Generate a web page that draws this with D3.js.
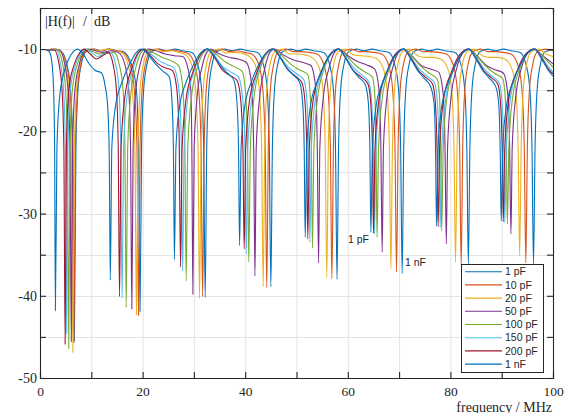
<!DOCTYPE html>
<html><head><meta charset="utf-8">
<script src="https://cdn.jsdelivr.net/npm/d3@7"></script>
<style>
html,body{margin:0;padding:0;background:#fff;}
svg{display:block;}
</style></head>
<body>
<svg id="chart" width="574" height="413"></svg>
<script>
// ---- data ----
const seriesNames = ["1 pF","10 pF","20 pF","50 pF","100 pF","150 pF","200 pF","1 nF"];
const seriesColors = ["#0072BD","#D95319","#EDB120","#7E2F8E","#77AC30","#4DBEEE","#A2142F","#0072BD"];
const xTicks = [0,20,40,60,80,100];
const yTicks = [-50,-40,-30,-20,-10];

const s1pF = [[1.2,-10.1],[3.0,-10.0],[4.2,-10.3],[5.3,-12],[5.95,-15],[6.4,-22],[6.7,-45.5],[7.0,-22],[7.4,-15],[8.0,-12],[9.0,-10.3],
[10.5,-10.0],[12.0,-10.2],[13.5,-10.0],[15.0,-10.2],
[16.2,-10.3],[17.9,-12],[18.8,-15],[19.2,-22],[19.5,-41.9],[19.8,-22],[20.2,-15],[20.8,-12],[21.8,-10.3],
[23.2,-10.0],[24.8,-10.2],[26.3,-10.0],[27.8,-10.2],
[29.6,-10.4],[30.8,-12],[31.5,-15],[31.9,-22],[32.2,-40.2],[32.5,-22],[32.9,-15],[33.5,-12],[34.5,-10.3],
[36.0,-10.0],[37.5,-10.2],[39.0,-10.0],[40.5,-10.2],
[42.4,-10.4],[43.6,-12],[44.3,-15],[44.7,-22],[45.0,-38.9],[45.3,-22],[45.7,-15],[46.3,-12],[47.3,-10.3],
[48.8,-10.0],[50.3,-10.2],[51.8,-10.0],[53.3,-10.2],
[55.3,-10.4],[56.5,-12],[57.2,-15],[57.6,-22],[57.9,-38.0],[58.2,-22],[58.6,-15],[59.2,-12],[60.2,-10.3],
[61.7,-10.0],[63.2,-10.2],[64.7,-10.0],[66.2,-10.2],
[68.0,-10.4],[69.2,-12],[69.9,-15],[70.3,-22],[70.6,-37.3],[70.9,-22],[71.3,-15],[71.9,-12],[72.9,-10.3],
[74.4,-10.0],[75.9,-10.2],[77.4,-10.0],[78.9,-10.2],
[80.9,-10.4],[82.1,-12],[82.8,-15],[83.2,-22],[83.5,-36.1],[83.8,-22],[84.2,-15],[84.8,-12],[85.8,-10.3],
[87.3,-10.0],[88.8,-10.2],[90.3,-10.0],[91.8,-10.2],
[93.6,-10.4],[94.8,-12],[95.5,-15],[95.9,-22],[96.2,-36.1],[96.5,-22],[96.9,-15],[97.5,-12],[98.5,-10.3],[100,-10.1]];

const s10pF = [[1.2,-10.1],[3.0,-10.0],[4.1,-10.3],[5.2,-12],[5.85,-15],[6.3,-22],[6.6,-45.7],
[6.9,-22],[7.3,-15],[7.9,-12],[8.9,-10.3],[10.3,-10.0],[11.8,-10.2],[13.3,-10.0],[14.8,-10.2],
[16.2,-10.4],[17.6,-12],[18.4,-15],[18.9,-22],[19.2,-42.4],[19.5,-22],[19.9,-15],[20.5,-12],[21.5,-10.3],
[22.9,-10.0],[24.4,-10.2],[25.9,-10.1],[27.4,-10.3],
[28.8,-10.5],[30.2,-12],[30.95,-15],[31.4,-22],[31.7,-40.1],[32.0,-22],[32.4,-15],[33.0,-12],[34.0,-10.3],
[35.4,-10.0],[36.9,-10.3],[38.4,-10.2],[39.9,-10.4],
[41.3,-10.6],[42.7,-12],[43.45,-15],[43.9,-22],[44.2,-39.0],[44.5,-22],[44.9,-15],[45.5,-12],[46.5,-10.3],
[47.9,-10.0],[49.4,-10.3],[50.9,-10.3],[52.4,-10.4],
[54.0,-10.6],[55.4,-12],[56.15,-15],[56.6,-22],[56.9,-37.9],[57.2,-22],[57.6,-15],[58.2,-12],[59.2,-10.3],
[60.6,-10.0],[62.1,-10.3],[63.6,-10.3],[65.1,-10.4],
[66.6,-10.6],[68.0,-12],[68.75,-15],[69.2,-22],[69.5,-37.1],[69.8,-22],[70.2,-15],[70.8,-12],[71.8,-10.3],
[73.2,-10.0],[74.7,-10.3],[76.2,-10.3],[77.7,-10.4],
[79.2,-10.6],[80.6,-12],[81.35,-15],[81.8,-22],[82.1,-36.3],[82.4,-22],[82.8,-15],[83.4,-12],[84.4,-10.3],
[85.8,-10.0],[87.3,-10.3],[88.8,-10.3],[90.3,-10.4],
[91.8,-10.6],[93.2,-12],[93.95,-15],[94.4,-22],[94.7,-36.0],[95.0,-22],[95.4,-15],[96.0,-12],[97.0,-10.3],
[98.5,-10.0],[100,-10.2]];

const s20pF = [[1.2,-10.1],[3.0,-10.0],[4.0,-10.3],[5.0,-12],[5.65,-15],[6.1,-22],[6.4,-46.9],
[6.7,-22],[7.1,-15],[7.7,-12],[8.7,-10.3],[10.0,-10.0],[11.5,-10.2],[13.0,-10.0],[14.6,-10.2],
[15.9,-10.4],[17.2,-12],[18.0,-15],[18.5,-22],[18.8,-42.3],[19.1,-22],[19.5,-15],[20.1,-12],[21.1,-10.3],
[22.5,-10.0],[24.0,-10.3],[25.5,-10.2],[27.0,-10.4],
[28.2,-10.6],[29.6,-12],[30.35,-15],[30.8,-22],[31.1,-40.3],[31.4,-22],[31.8,-15],[32.4,-12],[33.4,-10.3],
[34.8,-10.0],[36.3,-10.5],[37.8,-10.4],[39.3,-10.5],
[40.6,-10.8],[42.0,-12],[42.75,-15],[43.2,-22],[43.5,-38.9],[43.8,-22],[44.2,-15],[44.8,-12],[45.8,-10.3],
[47.2,-10.0],[48.7,-10.6],[50.2,-10.6],[51.7,-10.7],
[53.0,-11.0],[54.4,-12.2],[55.15,-15],[55.6,-22],[55.9,-37.8],[56.2,-22],[56.6,-15],[57.2,-12],[58.2,-10.3],
[59.6,-10.0],[61.1,-10.7],[62.6,-10.8],[64.1,-10.9],
[65.5,-11.1],[66.9,-12.3],[67.65,-15],[68.1,-22],[68.4,-36.7],[68.7,-22],[69.1,-15],[69.7,-12],[70.7,-10.3],
[72.1,-10.0],[73.6,-10.8],[75.1,-11.0],[76.6,-11.0],
[78.1,-11.2],[79.5,-12.4],[80.25,-15],[80.7,-22],[81.0,-35.9],[81.3,-22],[81.7,-15],[82.3,-12],[83.3,-10.3],
[84.7,-10.0],[86.2,-10.8],[87.7,-11.0],[89.2,-11.0],
[90.6,-11.2],[92.0,-12.4],[92.75,-15],[93.2,-22],[93.5,-35.1],[93.8,-22],[94.2,-15],[94.8,-12],[95.8,-10.3],
[97.2,-10.0],[98.7,-10.6],[100,-10.9]];

const s50pF = [[1.2,-10.1],[3.8,-10.1],[4.7,-11.5],[5.45,-15],[5.85,-22],[6.1,-45.6],
[6.35,-22],[6.8,-15],[7.6,-12],[8.6,-10.3],[9.4,-10.0],[10.8,-10.2],[12.3,-10.4],[13.8,-10.2],[15.3,-10.4],[16.6,-12],[17.3,-15],[17.65,-22],[17.9,-41.6],
[18.15,-22],[18.6,-15.5],[19.4,-12.2],[20.3,-10.4],[21.0,-10.0],[22.6,-10.2],[24.4,-10.6],[26.2,-10.8],[27.8,-10.9],[28.9,-12.5],[29.4,-15],[29.6,-22],[29.8,-39.8],
[30.05,-22],[30.6,-16],[31.5,-12.4],[32.5,-10.4],[33.3,-10.0],[35.0,-10.6],[36.8,-11.0],[38.6,-11.2],[40.2,-11.6],[41.2,-14],[41.65,-22],[41.9,-37.6],
[42.15,-22],[42.8,-16],[43.8,-12.4],[44.8,-10.4],[45.7,-10.0],[47.4,-10.7],[49.3,-11.3],[51.1,-11.6],[52.8,-12.0],[53.7,-14.5],[54.05,-22],[54.3,-36.0],
[54.55,-22],[55.2,-16],[56.3,-12.4],[57.4,-10.4],[58.3,-10.0],[60.0,-10.8],[61.9,-11.5],[63.6,-11.9],[65.2,-12.4],[66.1,-15],[66.45,-22],[66.7,-34.7],
[66.95,-22],[67.6,-16],[68.7,-12.4],[69.9,-10.4],[70.9,-10.0],[72.6,-10.9],[74.3,-12.0],[76.0,-12.4],[77.7,-12.8],[78.6,-15.5],[78.95,-22],[79.2,-33.7],
[79.45,-22],[80.1,-16],[81.2,-12.4],[82.5,-10.4],[83.6,-10.0],[85.3,-10.9],[87.0,-12.0],[88.7,-12.5],[90.3,-12.9],[91.2,-15.5],[91.55,-22],[91.8,-32.5],
[92.05,-22],[92.7,-16],[93.8,-12.4],[95.2,-10.4],[96.4,-10.0],[98.0,-10.8],[100,-11.8]];

const s100pF = [[1.2,-10.1],[3.4,-10.1],[4.3,-11.5],[5.0,-15],[5.35,-22],[5.6,-46.4],
[5.85,-22],[6.3,-15],[7.2,-12],[8.3,-10.4],[9.0,-10.0],[10.3,-10.3],[11.7,-10.6],[13.0,-10.5],[14.4,-10.4],[15.5,-12],[16.2,-15],[16.55,-22],[16.8,-41.4],
[17.1,-22],[17.7,-15.5],[18.7,-12.2],[19.7,-10.4],[20.5,-10.0],[22.0,-10.4],[23.8,-11.0],[25.5,-11.4],[27.0,-12.0],[27.8,-14.5],[28.2,-20],[28.5,-38.2],
[28.8,-22],[29.5,-16],[30.6,-12.4],[31.8,-10.5],[32.8,-10.0],[34.3,-10.6],[36.0,-11.5],[37.7,-12.1],[39.4,-12.7],[40.1,-15.5],[40.45,-22],[40.7,-35.9],
[41.0,-22],[41.7,-16],[42.9,-12.4],[44.3,-10.5],[45.5,-10.0],[47.0,-10.7],[48.8,-11.8],[50.5,-12.5],[52.2,-13.1],[52.7,-16],[52.9,-22],[53.1,-34.2],
[53.4,-22],[54.1,-16],[55.4,-12.4],[56.9,-10.5],[58.2,-10.0],[59.7,-10.8],[61.4,-11.9],[63.1,-12.7],[64.8,-13.4],[65.3,-16],[65.5,-22],[65.7,-32.9],
[66.0,-22],[66.7,-16],[68.1,-12.4],[69.6,-10.5],[70.9,-10.0],[72.4,-10.8],[74.1,-12.0],[75.8,-12.9],[77.4,-13.6],[77.9,-16],[78.1,-22],[78.3,-32.1],
[78.6,-22],[79.3,-16],[80.7,-12.4],[82.2,-10.5],[83.6,-10.0],[85.1,-10.8],[86.8,-12.0],[88.5,-12.9],[90.2,-13.6],[90.7,-16],[90.9,-22],[91.1,-31.3],
[91.4,-22],[92.1,-16],[93.5,-12.4],[95.0,-10.5],[96.4,-10.0],[97.9,-10.8],[99.4,-11.8],[100,-12.2]];

const s150pF = [[1.2,-10.1],[3.1,-10.1],[3.9,-11.5],[4.6,-15],[4.95,-22],[5.2,-44.6],
[5.45,-22],[5.9,-15],[6.9,-12],[8.0,-10.4],[8.8,-10.0],[10.0,-10.4],[11.2,-10.9],[12.5,-10.6],[13.7,-10.4],[14.8,-12],[15.4,-15],[15.75,-22],[16.0,-40.3],
[16.3,-22],[16.9,-16],[18.1,-12.5],[19.3,-10.4],[20.2,-10.0],[21.6,-10.6],[23.2,-11.4],[24.8,-11.9],[26.1,-12.3],[27.0,-14.5],[27.5,-20],[27.8,-37.0],
[28.1,-22],[28.8,-16],[30.1,-12.6],[31.5,-10.5],[32.6,-10.0],[34.0,-10.8],[35.6,-12.1],[37.2,-12.8],[38.7,-13.4],[39.5,-16],[39.95,-22],[40.2,-34.9],
[40.5,-22],[41.3,-16],[42.6,-12.6],[44.1,-10.5],[45.4,-10.0],[46.8,-10.9],[48.4,-12.2],[50.0,-13.0],[51.4,-13.7],[52.0,-16],[52.4,-22],[52.6,-33.5],
[52.9,-22],[53.7,-16],[55.1,-12.6],[56.7,-10.5],[58.2,-10.0],[59.6,-11.0],[61.2,-12.3],[62.8,-13.2],[64.1,-14.0],[64.6,-16],[65.0,-22],[65.2,-32.5],
[65.5,-22],[66.3,-16],[67.8,-12.6],[69.4,-10.5],[70.9,-10.0],[72.3,-11.0],[73.9,-12.4],[75.5,-13.3],[76.9,-14.1],[77.4,-16],[77.8,-22],[78.0,-31.7],
[78.3,-22],[79.1,-16],[80.5,-12.6],[82.1,-10.5],[83.6,-10.0],[85.0,-11.0],[86.6,-12.4],[88.1,-13.3],[89.5,-14.1],[90.0,-16],[90.4,-22],[90.6,-31.1],
[90.9,-22],[91.7,-16],[93.1,-12.6],[94.8,-10.5],[96.4,-10.0],[97.8,-11.0],[99.3,-12.3],[100,-12.8]];

const s200pF = [[1.2,-10.1],[2.8,-10.1],[3.6,-11.5],[4.3,-15],[4.65,-22],[4.9,-45.9],
[5.15,-22],[5.6,-15],[6.6,-12],[7.8,-10.4],[8.6,-10.0],[9.8,-10.6],[11.0,-11.2],[12.2,-10.8],[13.3,-10.4],[14.3,-12],[14.9,-15],[15.25,-22],[15.5,-40.1],
[15.8,-22],[16.5,-16],[17.8,-12.5],[19.2,-10.4],[20.2,-10.0],[21.5,-10.8],[23.0,-11.8],[24.5,-12.3],[25.8,-12.6],[26.6,-14.5],[27.1,-20],[27.4,-36.5],
[27.7,-22],[28.5,-16],[29.8,-12.8],[31.4,-10.6],[32.6,-10.0],[34.0,-11.0],[35.5,-12.5],[37.0,-13.2],[38.4,-13.8],[39.1,-16],[39.55,-22],[39.8,-34.3],
[40.1,-22],[40.9,-16],[42.3,-12.8],[43.9,-10.6],[45.4,-10.0],[46.8,-11.0],[48.3,-12.5],[49.8,-13.3],[51.0,-14.0],[51.6,-16],[52.0,-22],[52.2,-33.1],
[52.5,-22],[53.3,-16],[54.8,-12.8],[56.6,-10.6],[58.2,-10.0],[59.6,-11.1],[61.1,-12.6],[62.6,-13.4],[63.9,-14.2],[64.4,-16],[64.8,-22],[65.0,-32.4],
[65.3,-22],[66.1,-16],[67.6,-12.8],[69.3,-10.6],[70.9,-10.0],[72.3,-11.1],[73.8,-12.6],[75.3,-13.5],[76.5,-14.2],[77.0,-16],[77.4,-22],[77.6,-31.6],
[77.9,-22],[78.7,-16],[80.2,-12.8],[81.9,-10.6],[83.6,-10.0],[85.0,-11.1],[86.5,-12.6],[88.0,-13.5],[89.2,-14.2],[89.7,-16],[90.1,-22],[90.3,-31.0],
[90.6,-22],[91.4,-16],[92.9,-12.8],[94.7,-10.6],[96.4,-10.0],[97.8,-11.1],[99.2,-12.5],[100,-13.0]];

const s1nF = [[1.2,-10.1],[1.8,-10.3],[2.3,-11.5],[2.65,-15],[2.85,-22],[3.0,-41.8],
[3.3,-22],[3.8,-16],[4.6,-13],[5.6,-11.2],[6.5,-10.3],[7.3,-10.0],[8.3,-10.5],[9.7,-11.9],[10.8,-12.6],[12.0,-12.9],[12.7,-14.5],[13.2,-17],[13.5,-23],[13.7,-38.1],
[14.0,-22],[14.7,-17],[16.0,-14],[17.5,-11.8],[18.8,-10.4],[19.8,-10.0],[21.0,-10.6],[22.5,-11.8],[24.0,-12.7],[25.2,-13.4],[25.7,-16],[26.0,-22],[26.2,-35.6],
[26.5,-22],[27.2,-17],[28.5,-14],[30.0,-11.8],[31.4,-10.4],[32.6,-10.0],[33.8,-10.7],[35.2,-12.0],[36.5,-12.9],[37.8,-13.8],[38.4,-16.5],[38.7,-22],[38.9,-33.9],
[39.2,-22],[39.9,-17],[41.2,-14],[42.7,-11.8],[44.2,-10.4],[45.4,-10.0],[46.6,-10.8],[48.0,-12.2],[49.3,-13.1],[50.6,-14.0],[51.2,-16.5],[51.5,-22],[51.7,-32.9],
[52.0,-22],[52.7,-17],[54.0,-14],[55.5,-11.8],[57.0,-10.4],[58.2,-10.0],[59.4,-10.9],[60.8,-12.4],[62.1,-13.4],[63.4,-14.3],[64.0,-16.5],[64.3,-22],[64.5,-32.3],
[64.8,-22],[65.5,-17],[66.8,-14],[68.3,-11.8],[69.8,-10.4],[70.9,-10.0],[72.1,-11.0],[73.5,-12.5],[74.8,-13.5],[76.1,-14.5],[76.8,-16.5],[77.1,-22],[77.3,-31.5],
[77.6,-22],[78.3,-17],[79.6,-14],[81.1,-11.8],[82.5,-10.4],[83.6,-10.0],[84.8,-11.0],[86.2,-12.5],[87.5,-13.5],[88.8,-14.5],[89.4,-16.5],[89.7,-22],[89.9,-30.9],
[90.2,-22],[90.9,-17],[92.2,-14],[93.7,-11.8],[95.2,-10.4],[96.4,-10.0],[97.6,-11.0],[99.0,-12.5],[100,-13.3]];

const seriesData = [s1pF,s10pF,s20pF,s50pF,s100pF,s150pF,s200pF,s1nF];

// ---- layout ----
const W=574,H=413;
const m={left:40,right:21,top:8,bottom:35};
const svg=d3.select("#chart");
const x=d3.scaleLinear().domain([0,100]).range([m.left,W-m.right]);
const y=d3.scaleLinear().domain([-50,-5]).range([H-m.bottom,m.top]);
const serif="'Liberation Serif','Times New Roman',serif";
const sans="'Liberation Sans',Arial,Helvetica,sans-serif";

// grid
const gx=d3.range(10,100,10), gy=d3.range(-45,-5,5);
svg.append("g").selectAll("line").data(gx).join("line")
 .attr("x1",d=>x(d)+0.5).attr("x2",d=>x(d)+0.5).attr("y1",y(-5)).attr("y2",y(-50))
 .attr("stroke","#e3e3e3").attr("stroke-width",1);
svg.append("g").selectAll("line").data(gy).join("line")
 .attr("y1",d=>Math.round(y(d))+0.5).attr("y2",d=>Math.round(y(d))+0.5).attr("x1",x(0)).attr("x2",x(100))
 .attr("stroke","#e3e3e3").attr("stroke-width",1);

// clip
svg.append("clipPath").attr("id","clip").append("rect")
 .attr("x",x(0)).attr("y",y(-5)).attr("width",x(100)-x(0)).attr("height",y(-50)-y(-5));

const line=d3.line().x(d=>x(d[0])).y(d=>y(d[1])).curve(d3.curveMonotoneX);
svg.append("g").attr("clip-path","url(#clip)").selectAll("path").data(seriesData).join("path")
 .attr("d",line).attr("fill","none")
 .attr("stroke",(d,i)=>seriesColors[i]).attr("stroke-width",1.1).attr("stroke-linejoin","round");

// axes (ticks inward)
const axCol="#262626";
const fmt=d=>String(d);
const xb=svg.append("g").attr("transform",`translate(0,${y(-50)})`)
 .call(d3.axisBottom(x).tickValues(d3.range(0,101,10)).tickSize(-6).tickFormat(d=>xTicks.includes(d)?fmt(d):""));
const xt=svg.append("g").attr("transform",`translate(0,${y(-5)})`)
 .call(d3.axisTop(x).tickValues(d3.range(0,101,10)).tickSize(-6).tickFormat(""));
const yl=svg.append("g").attr("transform",`translate(${x(0)},0)`)
 .call(d3.axisLeft(y).tickValues(d3.range(-50,-4,5)).tickSize(-6).tickFormat(d=>yTicks.includes(d)?fmt(d):""));
const yr=svg.append("g").attr("transform",`translate(${x(100)},0)`)
 .call(d3.axisRight(y).tickValues(d3.range(-50,-4,5)).tickSize(-6).tickFormat(""));
[xb,xt,yl,yr].forEach(g=>{
  g.attr("font-family",null).attr("font-size",null);
  g.select(".domain").attr("stroke",axCol).attr("stroke-width",1.1);
  g.selectAll(".tick line").attr("stroke",axCol).attr("stroke-width",1.1);
  g.selectAll("text").attr("fill","#262626").style("font-family",serif).style("font-size","14px");
});
xb.selectAll("text").attr("dy",null).attr("y",17.5).style("font-size","13.5px");
yl.selectAll("text").attr("x",-3).attr("dy","0.32em");

// labels
svg.append("text").attr("x",x(100)-1).attr("y",411.5).attr("text-anchor","end")
 .style("font-family",serif).style("font-size","14px").attr("fill","#262626").text("frequency / MHz");
const yt=svg.append("text").attr("y",26).style("font-family",serif).style("font-size","14px").attr("fill","#262626");
yt.append("tspan").attr("x",45).text("|H(f)|");
yt.append("tspan").attr("x",83).text("/");
yt.append("tspan").attr("x",94).text("dB");

// annotations
svg.append("text").attr("x",348).attr("y",243).style("font-family",sans).style("font-size","10.5px").attr("fill","#262626").text("1 pF");
svg.append("text").attr("x",405).attr("y",266).style("font-family",sans).style("font-size","10.5px").attr("fill","#262626").text("1 nF");

// legend
const lg=svg.append("g");
lg.append("rect").attr("x",461.5).attr("y",264.5).attr("width",82).attr("height",108)
 .attr("fill","#fff").attr("stroke",axCol).attr("stroke-width",1);
seriesNames.forEach((n,i)=>{
  const yy=271.7+i*13.2;
  lg.append("line").attr("x1",465).attr("x2",502).attr("y1",yy).attr("y2",yy)
   .attr("stroke",seriesColors[i]).attr("stroke-width",1.1);
  lg.append("text").attr("x",505).attr("y",yy).attr("dy","0.35em")
   .style("font-family",sans).style("font-size","10.5px").attr("fill","#262626").text(n);
});
</script>
</body></html>
